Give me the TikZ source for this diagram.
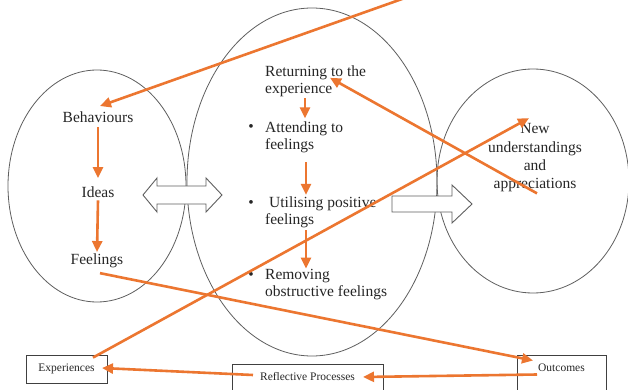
\documentclass[tikz,border=0pt]{standalone}
\usepackage{fontspec}
\setmainfont{Liberation Serif}
\usetikzlibrary{arrows.meta,calc}
\definecolor{orarr}{RGB}{236,118,48}
\definecolor{ellgray}{RGB}{95,95,95}
\tikzset{
  oarr/.style={draw=orarr,line width=2.6pt,-{Triangle[length=11pt,width=10pt]}},
  ell/.style={draw=ellgray,line width=0.8pt},
  hollow/.style={draw=ellgray,line width=0.9pt,fill=white,line join=miter},
  bigtxt/.style={font=\fontsize{15.5}{17.5}\selectfont,text=black!85,inner sep=2pt},
  itemtxt/.style={font=\fontsize{15.5}{17.5}\selectfont,text=black!85,inner sep=0pt,align=left,anchor=west},
  boxst/.style={draw=black!75,line width=0.9pt,font=\fontsize{11.5}{13}\selectfont,text=black!85,inner sep=0pt,anchor=base},
}
\begin{document}
\begin{tikzpicture}[x=1pt,y=-1pt]
\useasboundingbox (0,0) rectangle (628,390);
\clip (0,0) rectangle (628,390);
\fill[white] (0,0) rectangle (628,390);
% ellipses
\draw[ell] (97,186) ellipse [x radius=89, y radius=116];
\draw[ell] (312,182) ellipse [x radius=125, y radius=174];
\draw[ell] (533,181) ellipse [x radius=96, y radius=112];
% hollow arrows
\draw[hollow] (143,195) -- (157,178) -- (157,186) -- (206,186) -- (206,178) -- (222,195)
  -- (206,212) -- (206,204) -- (157,204) -- (157,212) -- cycle;
\draw[hollow] (392,196) -- (452,196) -- (452,185) -- (472,204) -- (452,223) -- (452,212) -- (392,212) -- cycle;
% left column
\node[bigtxt,anchor=base] (beh) at (98,123) {Behaviours};
\node[bigtxt,anchor=base] (ide) at (98,197) {Ideas};
\node[bigtxt,anchor=base] (fee) at (97,264) {Feelings};
% middle column
\node[itemtxt] (r1) at (265,81.3) {Returning to the\\experience};
\node[itemtxt] (r2) at (265,137.3) {Attending to\\feelings};
\node[itemtxt] (r3) at (265,212.3) {\hspace{4pt}Utilising positive\\feelings};
\node[itemtxt] (r4) at (265,284.3) {Removing\\obstructive feelings};
\node[bigtxt,anchor=base] (b2) at (251,132) {•};
\node[bigtxt,anchor=base] (b3) at (251,207) {•};
\node[bigtxt,anchor=base] (b4) at (251,279) {•};
% right
\node[font=\fontsize{15.5}{18.3}\selectfont,text=black!85,inner sep=0pt,align=center] (new) at (535,158) {New\\understandings\\and\\appreciations};
% boxes
\node[boxst,minimum width=81pt,text height=16pt,text depth=12pt] (exp) at (66.5,371) {Experiences};
\node[boxst,minimum width=151pt,text height=16pt,text depth=15pt] (refl) at (307.5,380) {Reflective Processes};
\node[boxst,minimum width=89pt,text height=16pt,text depth=24pt] (outc) at (561.5,371) {Outcomes};
% orange connectors
\coordinate (topend) at (419,-7);
\draw[oarr] (topend) -- ($(beh.north)+(2,-4)$);
\draw[oarr] ($(beh.south)+(0,2)$) -- ($(ide.north)+(0,-6)$);
\draw[oarr] ($(ide.south)+(0,1)$) -- ($(fee.north)+(0,1)$);
\draw[oarr] ($(r1.south west)+(40,1)$) -- ($(r2.north west)+(40,-3)$);
\draw[oarr] ($(r2.south west)+(41,9)$) -- ($(r3.north west)+(41,-1.5)$);
\draw[oarr] ($(r3.south west)+(41,2)$) -- ($(r4.north west)+(41,0)$);
\draw[oarr] ($(new.south)+(2,1)$) -- ($(r1.north west)+(65,12.5)$);
\draw[oarr] ($(exp.north)+(26.5,3)$) -- ($(new.north)+(-6,-5.5)$);
\draw[oarr] ($(fee.south)+(3,3.6)$) -- ($(outc.base)+(-28.5,-10.5)$);
\draw[oarr] ($(outc.base)+(-24.5,3.5)$) -- ($(refl.base)+(55.5,-3)$);
\draw[oarr] ($(refl.base)+(-54.5,-5)$) -- ($(exp.base)+(35.5,-3)$);
\end{tikzpicture}
\end{document}
